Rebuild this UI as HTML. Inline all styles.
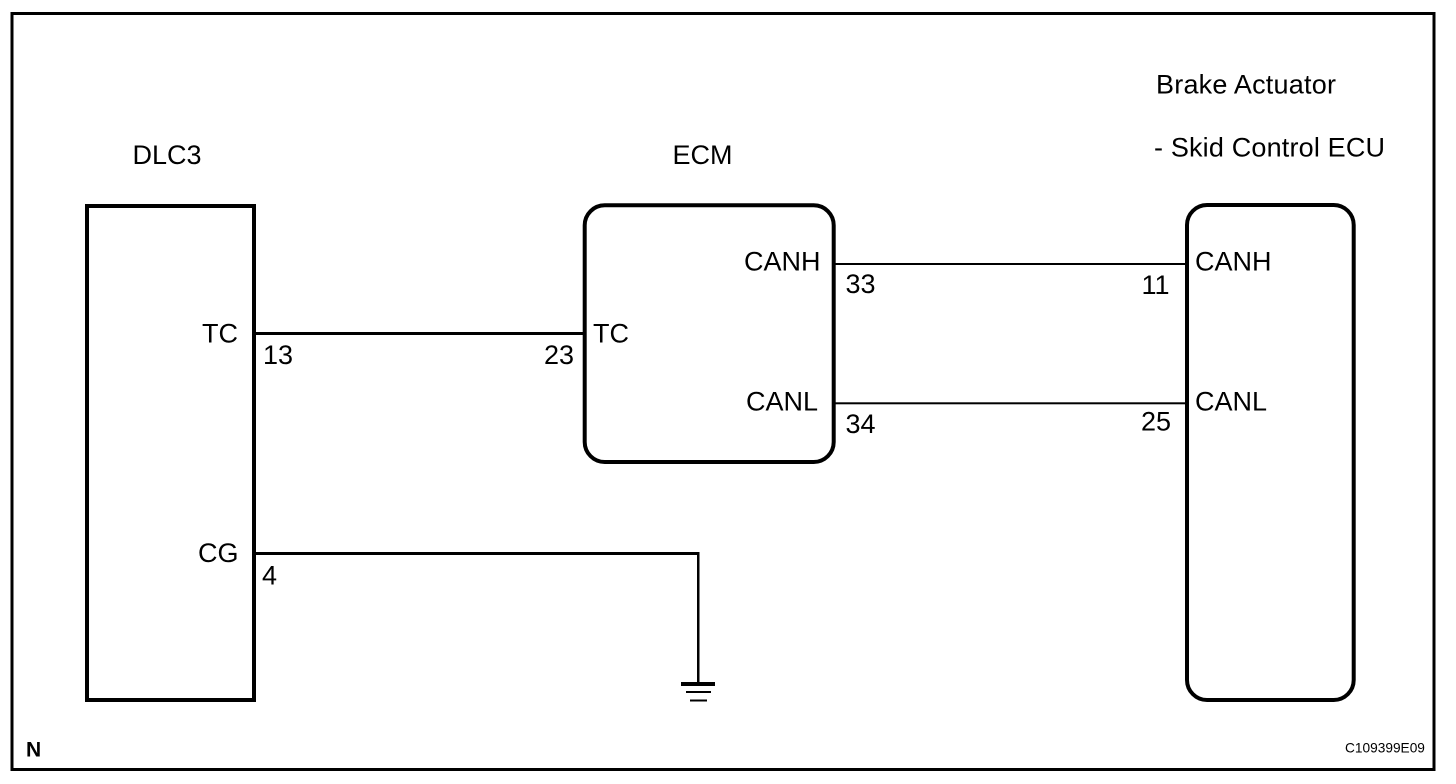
<!DOCTYPE html>
<html><head><meta charset="utf-8"><style>
html,body{margin:0;padding:0;background:#fff;width:1456px;height:784px;overflow:hidden}
svg{display:block}
text{font-family:"Liberation Sans",sans-serif;font-size:27px;fill:#000}
</style></head><body>
<svg width="1456" height="784" viewBox="0 0 1456 784" xmlns="http://www.w3.org/2000/svg">
<rect width="1456" height="784" fill="#fff"/>
<rect x="12" y="13.5" width="1422" height="756" fill="none" stroke="#000" stroke-width="3"/>
<rect x="87" y="206" width="167" height="494" fill="none" stroke="#000" stroke-width="4"/>
<rect x="584.7" y="205.3" width="249" height="256.7" rx="20" ry="20" fill="none" stroke="#000" stroke-width="4"/>
<rect x="1187" y="205" width="166.7" height="495" rx="20" ry="20" fill="none" stroke="#000" stroke-width="4"/>
<g fill="#000">
<rect x="255" y="332" width="329" height="3"/>
<rect x="255" y="552" width="444" height="3"/>
<rect x="697" y="552" width="2.5" height="131"/>
<rect x="835" y="263" width="351" height="2"/>
<rect x="835" y="402.3" width="351" height="2"/>
<rect x="681" y="682" width="34" height="4"/>
<rect x="686" y="691" width="25" height="2"/>
<rect x="690" y="699.5" width="17" height="2"/>
</g>
<text x="132.5" y="164">DLC3</text>
<text x="672.5" y="164">ECM</text>
<text x="1156" y="93.5" textLength="180" lengthAdjust="spacing">Brake Actuator</text>
<text x="1154" y="156.5" textLength="231" lengthAdjust="spacing">- Skid Control ECU</text>
<text x="202" y="342.5">TC</text>
<text x="263" y="364">13</text>
<text x="198" y="562">CG</text>
<text x="262" y="584.5">4</text>
<text x="544" y="364">23</text>
<text x="593" y="342.5">TC</text>
<text x="744" y="270.5">CANH</text>
<text x="746" y="410.5">CANL</text>
<text x="845.5" y="293">33</text>
<text x="845.5" y="433">34</text>
<text x="1141.5" y="294">11</text>
<text x="1141" y="430.5">25</text>
<text x="1195" y="270.5">CANH</text>
<text x="1195" y="410.5">CANL</text>
<text x="26" y="756.5" style="font-size:21px;font-weight:bold">N</text>
<text x="1345" y="752.7" style="font-size:13.7px">C109399E09</text>
</svg>
</body></html>
